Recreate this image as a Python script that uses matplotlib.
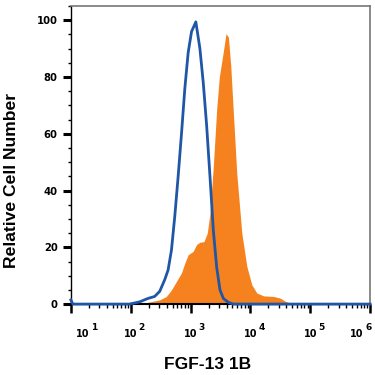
import matplotlib
matplotlib.use('Agg')
import matplotlib.pyplot as plt
from matplotlib.ticker import LogLocator, MultipleLocator, NullFormatter

plt.rcParams['font.family'] = ['DejaVu Sans']
plt.rcParams['font.weight'] = 'bold'

# Isotype control (blue outline)
ctrlX = [10, 10.8, 95, 141, 194, 251, 305, 370, 421, 479, 545, 620, 705, 802, 912,
         1038, 1225, 1432, 1629, 1854, 2109, 2400, 2730, 3100, 3530, 4290, 5200, 1e6]
ctrlY = [1.5, 0, 0, 0.8, 2, 2.7, 4.5, 8.6, 12, 19, 31, 45, 60, 76, 88.6,
         96, 99.4, 90, 78, 63, 45, 26, 13, 5, 2, 0.6, 0, 0]

# FGF-13 1B stained (orange fill)
stainX = [95, 102, 182, 235, 305, 394, 479, 581, 705, 802, 912, 1107, 1259, 1432,
          1671, 1901, 2109, 2400, 2730, 3020, 3436, 3910, 4290, 4690, 5200, 5916,
          7180, 8710, 10550, 12820, 16600, 24400, 31600, 38300, 46400, 52800]
stainY = [0, 0.3, 0.5, 1, 1.5, 2.7, 5, 8, 11, 14.5, 17.4, 18.6, 21, 21.8,
          22, 25, 32, 48.6, 68.6, 80, 87.4, 95.3, 94, 84, 67, 46,
          25, 13.3, 6.8, 3.9, 2.9, 2.7, 2.1, 1, 0.4, 0]

xTicks = [10, 100, 1000, 10000, 100000, 1000000]
xExponents = ['1', '2', '3', '4', '5', '6']
xLabelShift = [12, 0, 0, 0, 0, -13]   # end labels pulled inward (pixels)
yTicks = [0, 20, 40, 60, 80, 100]

fig = plt.figure(figsize=(3.75, 3.75), dpi=100)
ax = fig.add_axes([0.189, 0.189, 0.798, 0.795])

ax.fill_between(stainX, stainY, 0, color='#F5821F', linewidth=0, zorder=2)
ax.plot(ctrlX, ctrlY, color='#1F56A5', linewidth=2.0, zorder=3, clip_on=False)

ax.set_xscale('log')
ax.set_xlim(10, 1e6)
ax.set_ylim(0, 105)

ax.set_xticks(xTicks)
ax.set_xticklabels([])
ax.xaxis.set_minor_locator(LogLocator(base=10, subs=range(2, 10), numticks=20))
ax.xaxis.set_minor_formatter(NullFormatter())
ax.set_yticks(yTicks)
ax.set_yticklabels([str(v) for v in yTicks], fontsize=7.2)
ax.yaxis.set_minor_locator(MultipleLocator(5))

ax.tick_params(axis='x', which='major', direction='out', length=6.5, width=1.8, color='black')
ax.tick_params(axis='x', which='minor', direction='out', length=3, width=1, color='black')
ax.tick_params(axis='y', which='major', direction='out', length=5.5, width=2.2, pad=4, color='black')
ax.tick_params(axis='y', which='minor', direction='out', length=2.5, width=1, color='black')

# decade labels: "10" with a full-size exponent
for t, e, dx in zip(xTicks, xExponents, xLabelShift):
    ax.annotate('10', xy=(t, 0), xycoords=('data', 'axes fraction'),
                xytext=(dx, -33), textcoords='offset pixels',
                ha='center', va='baseline', fontsize=7, fontweight='bold')
    ax.annotate(e, xy=(t, 0), xycoords=('data', 'axes fraction'),
                xytext=(dx + 8, -26), textcoords='offset pixels',
                ha='left', va='baseline', fontsize=6.5, fontweight='bold')

for side in ['top', 'right']:
    ax.spines[side].set_color('#777777')
    ax.spines[side].set_linewidth(1.2)
ax.spines['left'].set_color('black')
ax.spines['left'].set_linewidth(1.0)
ax.spines['bottom'].set_color('black')
ax.spines['bottom'].set_linewidth(1.5)

ax.set_xlabel('FGF-13 1B', fontsize=12.5, fontweight='bold', family='Liberation Sans')
ax.xaxis.set_label_coords(0.458, -0.178)
ax.set_ylabel('Relative Cell Number', fontsize=12.6, fontweight='bold', family='Liberation Sans')
ax.yaxis.set_label_coords(-0.224, 0.416)
ax.yaxis.label.set_verticalalignment('top')

fig.savefig('out.png', dpi=100)
